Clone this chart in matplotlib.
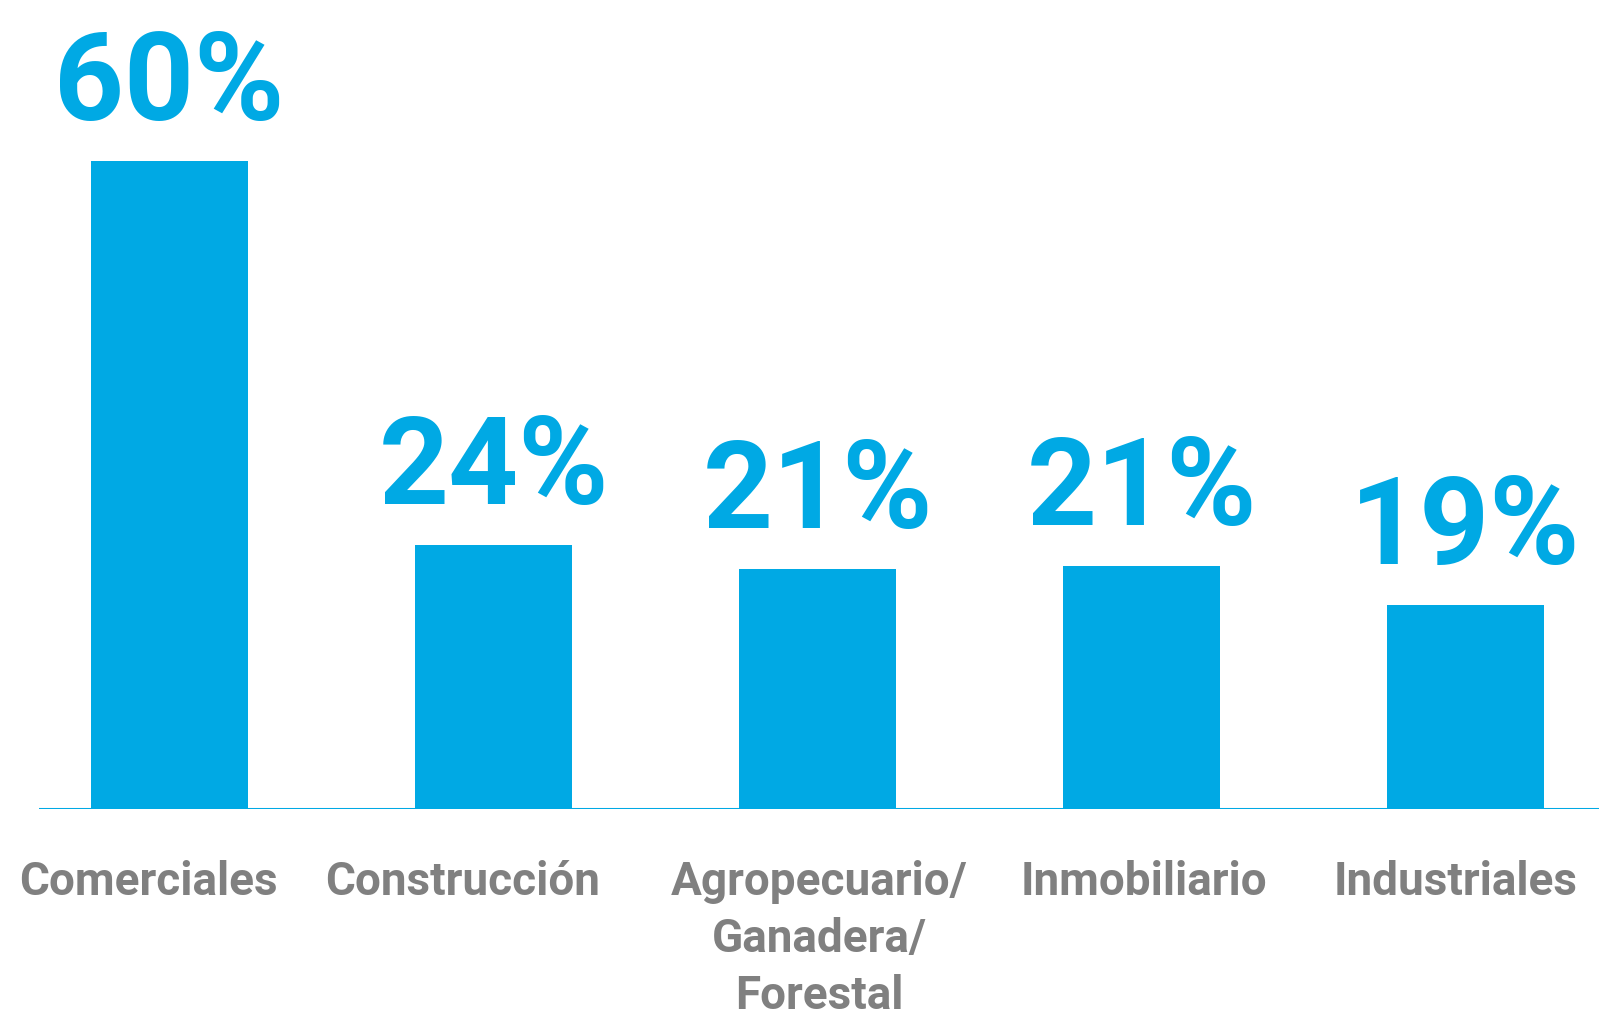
import matplotlib
matplotlib.use("Agg")
import matplotlib.pyplot as plt
import numpy as np

# sectores y porcentajes (altura de barra)
categorias = ["Comerciales", "Construcción", "Agropecuario/\nGanadera/\nForestal",
              "Inmobiliario", "Industriales"]
valores = [60.0, 24.4, 22.2, 22.5, 18.9]
etiquetas = ["60%", "24%", "21%", "21%", "19%"]

azul = "#00A9E4"
gris = "#808080"
# corrimiento horizontal de los nombres (px), como en el original
corrimiento = [-21, -31, 2, 2, -10]

fig = plt.figure(figsize=(15.99, 10.11), dpi=100)
ax = fig.add_axes([39 / 1599, 202 / 1011, 1 - 39 / 1599, 809 / 1011])

x = np.arange(len(categorias))
ax.bar(x, valores, width=0.485, color=azul, zorder=3)
ax.axhline(0, color=azul, lw=2.2, zorder=2)

ax.set_xlim(-0.403, 4.412)
ax.set_ylim(0, 74.9)
ax.axis("off")

for xi, v, t in zip(x, valores, etiquetas):
    ax.annotate(t, (xi, v), xytext=(0, 29.5), textcoords="offset points",
                ha="center", va="baseline", color=azul, fontsize=88,
                fontfamily="Roboto", fontweight="bold")

# cada renglon por separado para fijar la linea base
for xi, c, dx in zip(x, categorias, corrimiento):
    for k, renglon in enumerate(c.split("\n")):
        ax.annotate(renglon, (xi, 0), xytext=(dx * 0.72, -62 - 41 * k),
                    textcoords="offset points", ha="center", va="baseline",
                    color=gris, fontsize=33, fontfamily="Roboto",
                    fontweight="bold", annotation_clip=False)

fig.savefig("out.png", dpi=100)
